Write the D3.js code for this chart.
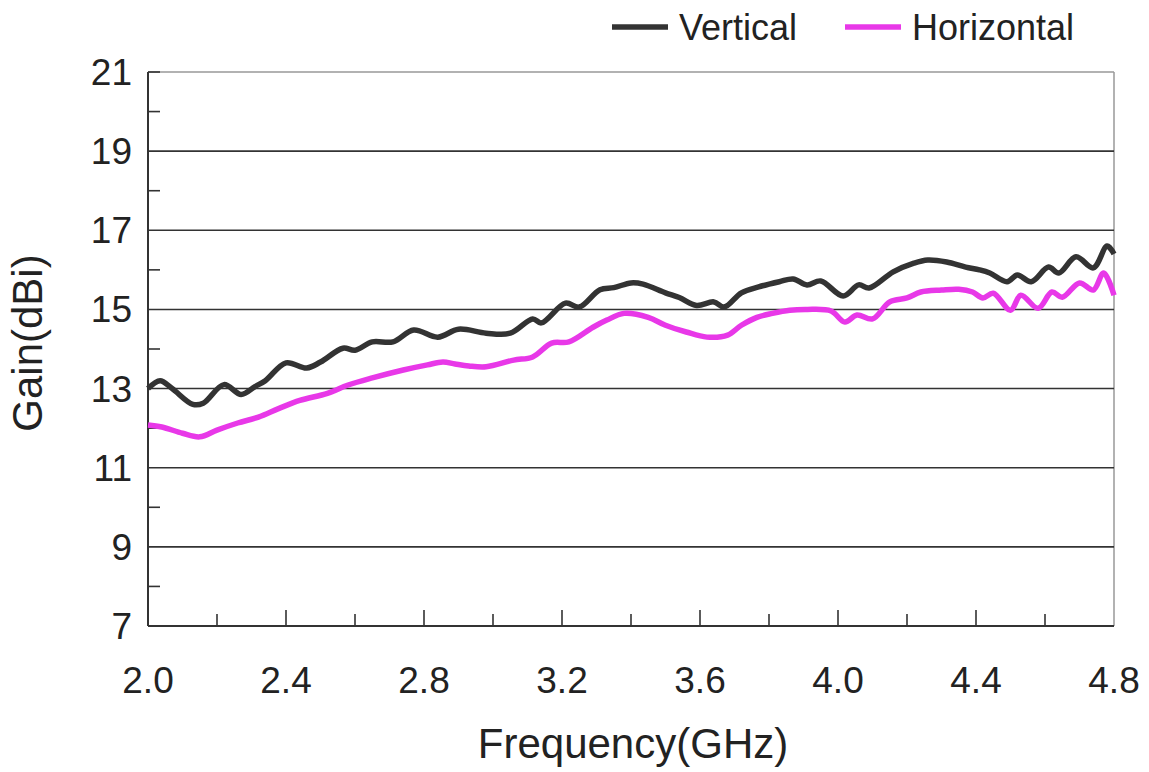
<!DOCTYPE html>
<html>
<head>
<meta charset="utf-8">
<script src="https://cdn.jsdelivr.net/npm/d3@7"></script>
<style>
  body { margin: 0; background: #fff; }
  svg { font-family: "Liberation Sans", Arial, sans-serif; }
</style>
</head>
<body>
<svg id="drawspace" width="1149" height="772"></svg>
<script>
// data
let vertFreq = [2.00,2.035,2.07,2.13,2.16,2.22,2.27,2.31,2.34,2.40,2.46,2.50,2.565,2.60,2.65,2.71,2.77,2.84,2.90,2.98,3.05,3.115,3.14,3.21,3.25,3.31,3.35,3.40,3.435,3.50,3.54,3.59,3.64,3.67,3.72,3.77,3.83,3.87,3.91,3.95,4.015,4.06,4.09,4.16,4.22,4.26,4.315,4.37,4.41,4.44,4.49,4.52,4.56,4.61,4.64,4.69,4.74,4.78,4.80];
let vertGain = [13.0,13.2,13.0,12.6,12.63,13.1,12.85,13.05,13.2,13.65,13.52,13.67,14.02,13.97,14.18,14.18,14.48,14.3,14.5,14.4,14.4,14.76,14.66,15.16,15.06,15.5,15.55,15.67,15.64,15.42,15.3,15.1,15.19,15.06,15.42,15.57,15.7,15.77,15.62,15.72,15.34,15.62,15.54,15.95,16.17,16.25,16.2,16.07,16.0,15.92,15.7,15.87,15.7,16.07,15.92,16.33,16.05,16.6,16.4];

let horFreq = [2.00,2.04,2.10,2.15,2.20,2.26,2.32,2.38,2.44,2.52,2.58,2.65,2.74,2.81,2.855,2.89,2.93,2.98,3.06,3.115,3.17,3.22,3.29,3.33,3.38,3.45,3.50,3.56,3.62,3.68,3.72,3.765,3.81,3.86,3.91,3.98,4.02,4.055,4.10,4.15,4.20,4.24,4.30,4.35,4.39,4.42,4.45,4.50,4.53,4.58,4.62,4.65,4.70,4.74,4.77,4.80];
let horGain = [12.08,12.03,11.87,11.78,11.95,12.13,12.28,12.5,12.7,12.88,13.09,13.27,13.47,13.6,13.67,13.62,13.57,13.55,13.72,13.8,14.15,14.18,14.55,14.73,14.9,14.8,14.6,14.43,14.3,14.35,14.6,14.8,14.9,14.98,15.0,14.96,14.68,14.86,14.76,15.19,15.29,15.44,15.49,15.51,15.44,15.29,15.41,14.98,15.36,15.03,15.44,15.31,15.67,15.49,15.92,15.36];

let yGridVals = [9,11,13,15,17,19];
let yLabelVals = [7,9,11,13,15,17,19,21];
let yMinorVals = [8,10,12,14,16,18,20,21];
let xTickVals = [2.2,2.4,2.6,2.8,3.0,3.2,3.4,3.6,3.8,4.0,4.2,4.4,4.6];
let xLabelVals = [2.0,2.4,2.8,3.2,3.6,4.0,4.4,4.8];

let ds = d3.select("#drawspace");
let pLeft = 148, pRight = 1114, pTop = 72, pBottom = 626;

let xscale = d3.scaleLinear().domain([2.0,4.8]).range([pLeft,pRight]);
let yscale = d3.scaleLinear().domain([7,21]).range([pBottom,pTop]);

// frame (top + right, light)
ds.append("line").attr("x1",pLeft).attr("x2",pRight).attr("y1",pTop).attr("y2",pTop)
  .attr("stroke","#999").attr("stroke-width",1.5);
ds.append("line").attr("x1",pRight).attr("x2",pRight).attr("y1",pTop).attr("y2",pBottom)
  .attr("stroke","#999").attr("stroke-width",1.5);

// gridlines
ds.append("g").selectAll("line").data(yGridVals).enter().append("line")
  .attr("x1",pLeft).attr("x2",pRight)
  .attr("y1",d=>yscale(d)).attr("y2",d=>yscale(d))
  .attr("stroke","#333").attr("stroke-width",1.6);

// y minor ticks (inside)
ds.append("g").selectAll("line").data(yMinorVals).enter().append("line")
  .attr("x1",pLeft).attr("x2",pLeft+12)
  .attr("y1",d=>yscale(d)).attr("y2",d=>yscale(d))
  .attr("stroke","#333").attr("stroke-width",1.6);

// x ticks (inside, upward)
ds.append("g").selectAll("line").data(xTickVals).enter().append("line")
  .attr("x1",d=>xscale(d)).attr("x2",d=>xscale(d))
  .attr("y1",pBottom).attr("y2",(d,i)=> i%2==1 ? pBottom-16 : pBottom-12)
  .attr("stroke","#333").attr("stroke-width",1.6);

// axes lines
ds.append("line").attr("x1",pLeft).attr("x2",pLeft).attr("y1",pTop).attr("y2",pBottom)
  .attr("stroke","#333").attr("stroke-width",2);
ds.append("line").attr("x1",pLeft).attr("x2",pRight).attr("y1",pBottom).attr("y2",pBottom)
  .attr("stroke","#333").attr("stroke-width",2);

// tick labels
ds.append("g").selectAll("text").data(yLabelVals).enter().append("text")
  .attr("x",pLeft-16).attr("y",d=>yscale(d)+13)
  .attr("text-anchor","end").attr("font-size",37).attr("fill","#222")
  .text(d=>d);
ds.append("g").selectAll("text").data(xLabelVals).enter().append("text")
  .attr("x",d=>xscale(d)).attr("y",pBottom+67)
  .attr("text-anchor","middle").attr("font-size",37).attr("fill","#222")
  .text(d=>d.toFixed(1));

// axis titles
ds.append("text").attr("x",633).attr("y",758)
  .attr("text-anchor","middle").attr("font-size",42).attr("fill","#222")
  .text("Frequency(GHz)");
ds.append("text").attr("transform","translate(42,343) rotate(-90)")
  .attr("text-anchor","middle").attr("font-size",42).attr("fill","#222")
  .text("Gain(dBi)");

// series
let vData = vertFreq.map((f,i)=>({f:f,g:vertGain[i]}));
let hData = horFreq.map((f,i)=>({f:f,g:horGain[i]}));
let myLine = d3.line().x(d=>xscale(d.f)).y(d=>yscale(d.g)).curve(d3.curveCatmullRom);

ds.append("path").datum(hData).attr("d",myLine).attr("fill","none")
  .attr("stroke","#e838e8").attr("stroke-width",5.5).attr("stroke-linejoin","round");
ds.append("path").datum(vData).attr("d",myLine).attr("fill","none")
  .attr("stroke","#333").attr("stroke-width",5.5).attr("stroke-linejoin","round");

// legend
let legend = [{name:"Vertical",color:"#333",x:612},{name:"Horizontal",color:"#e838e8",x:845}];
let lg = ds.append("g").selectAll("g").data(legend).enter().append("g")
  .attr("transform",d=>"translate("+d.x+",27)");
lg.append("line").attr("x1",0).attr("x2",56).attr("y1",0).attr("y2",0)
  .attr("stroke",d=>d.color).attr("stroke-width",5.5);
lg.append("text").attr("x",67).attr("y",13).attr("font-size",36).attr("fill","#222")
  .text(d=>d.name);
</script>
</body>
</html>
